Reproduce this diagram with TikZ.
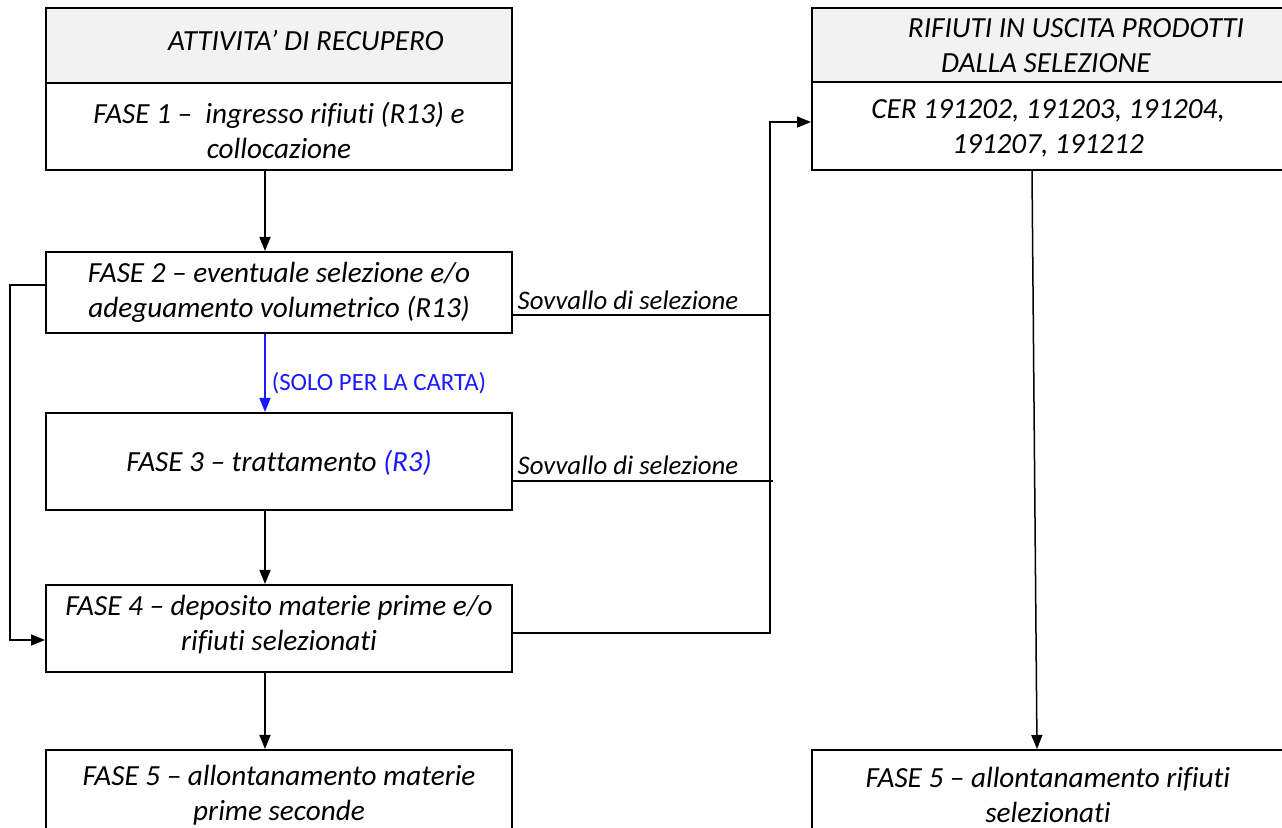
\documentclass[tikz,border=0pt]{standalone}
\usepackage{fontspec}
\setmainfont{Carlito}[Ligatures=NoCommon]
\usetikzlibrary{arrows.meta,calc}
\definecolor{hdrgray}{HTML}{F2F2F2}
\definecolor{bluetxt}{HTML}{1A1AFF}
\tikzset{
  box/.style={draw=black,line width=1pt,rectangle,inner sep=0pt},
  hdr/.style={box,fill=hdrgray},
  txt/.style={font=\fontsize{14.6}{17.5}\selectfont\itshape,align=center,inner sep=0pt},
  small/.style={font=\fontsize{13.4}{15}\selectfont\itshape,inner sep=0pt},
  arr/.style={line width=0.75pt,-{Triangle[length=7pt,width=5.5pt]}},
  ln/.style={line width=0.75pt},
}
\begin{document}
\begin{tikzpicture}[x=0.5pt,y=-0.5pt]
\useasboundingbox (0,0) rectangle (1282,828);
% left column boxes
\node[hdr,minimum width=233pt,minimum height=37.5pt] (hdrL) at (279,45.5) {};
\node[txt] (hdrLt) at (306,40) {ATTIVITA’ DI RECUPERO};
\node[box,minimum width=233pt,minimum height=43.5pt] (f1) at (279,126.5) {};
\node[txt] (f1t) at (279,130) {FASE 1 –\ \ ingresso rifiuti (R13) e\\collocazione};
\node[box,minimum width=233pt,minimum height=40.5pt] (f2) at (279,292.5) {};
\node[txt] (f2t) at (279,292) {FASE 2 – eventuale selezione e/o\\adeguamento volumetrico (R13)};
\node[box,minimum width=233pt,minimum height=48.5pt] (f3) at (279,461.5) {};
\node[txt] (f3t) at (279,463) {FASE 3 – trattamento {\color{bluetxt}(R3)}};
\node[box,minimum width=233pt,minimum height=43.5pt] (f4) at (279,628.5) {};
\node[txt] (f4t) at (279,625) {FASE 4 – deposito materie prime e/o\\rifiuti selezionati};
\node[box,minimum width=233pt,minimum height=45pt] (f5L) at (279,795) {};
\node[txt] (f5Lt) at (279,795) {FASE 5 – allontanamento materie\\prime seconde};
% right column boxes
\node[hdr,minimum width=239pt,minimum height=37pt] (hdrR) at (1051,45) {};
\node[txt] (hdrRt) at (1076,46) {RIFIUTI IN USCITA PRODOTTI\\\hspace*{-30pt}DALLA SELEZIONE};
\node[box,minimum width=239pt,minimum height=44pt] (cer) at (1051,126) {};
\node[txt] (cert) at (1048,128) {CER 191202, 191203, 191204,\\191207, 191212};
\node[box,minimum width=239pt,minimum height=45pt] (f5R) at (1051,795) {};
\node[txt] (f5Rt) at (1048,795) {FASE 5 – allontanamento rifiuti\\selezionati};
% helper coordinates
\coordinate (col) at (265,0);
\coordinate (lb) at (10,285);
\coordinate (lb2) at (10,640);
\coordinate (bus) at (770,122);
\coordinate (busb) at (770,633);
\coordinate (s1) at (770,315);
\coordinate (s2) at (773,481);
\coordinate (rtop) at (1032,0);
\coordinate (rbot) at (1037,0);
% vertical flow
\draw[arr] (f1.south -| col) -- (f2.north -| col);
\draw[arr,draw=bluetxt,fill=bluetxt] (f2.south -| col) -- node[right=3pt,font=\fontsize{12.4}{14}\selectfont,text=bluetxt,inner sep=0pt,yshift=-5pt] (solo) {(SOLO PER LA CARTA)} (f3.north -| col);
\draw[arr] (f3.south -| col) -- (f4.north -| col);
\draw[arr] (f4.south -| col) -- (f5L.north -| col);
% bypass on the left
\draw[arr] (f2.west |- lb) -- (lb) -- (lb2) -- (f4.west |- lb2);
% sovvallo lines
\draw[ln] (f2.east |- s1) -- (s1);
\draw[ln] (f3.east |- s2) -- (s2);
\node[small,anchor=south] (sv1) at (628,310) {Sovvallo di selezione};
\node[small,anchor=south] (sv2) at (628,475) {Sovvallo di selezione};
\draw[arr] (f4.east |- busb) -- (busb) -- (bus) -- (cer.west |- bus);
% right column arrow
\draw[arr] (cer.south -| rtop) -- (f5R.north -| rbot);
\end{tikzpicture}
\end{document}
